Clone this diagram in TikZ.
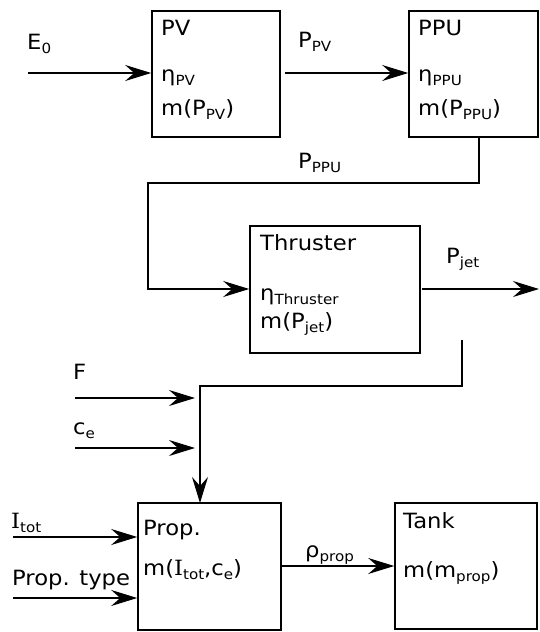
\documentclass[tikz,border=0pt]{standalone}
\usepackage{fontspec}
\setmainfont[FakeStretch=1.08]{DejaVu Sans}
\newfontfamily\serifI[FakeStretch=1.08]{DejaVu Serif}
\usetikzlibrary{arrows.meta}
\newcommand\sbs[1]{\raisebox{-4pt}{\fontsize{14}{14}\selectfont #1}}
\newcommand\Itot{{\serifI I}\sbs{tot}}
\begin{document}
\begin{tikzpicture}[x=1pt,y=-1pt,
  box/.style={draw,line width=1.6pt,inner sep=0pt},
  lbl/.style={anchor=base west,inner sep=0pt,font=\fontsize{21}{21}\selectfont},
  arr/.style={line width=1.5pt,-{Stealth[length=26pt,width=16pt,inset=9pt]}}]
\useasboundingbox (0,0) rectangle (539,632);
% boxes
\node[box,minimum width=128pt,minimum height=126pt] (pv) at (216,74) {};
\node[box,minimum width=129pt,minimum height=126pt] (ppu) at (473.5,74) {};
\node[box,minimum width=170pt,minimum height=127pt] (thr) at (335,289.5) {};
\node[box,minimum width=143pt,minimum height=127pt] (prop) at (209.5,566.5) {};
\node[box,minimum width=142pt,minimum height=126pt] (tank) at (466,566) {};
% box texts
\node[lbl] (pvt) at (161,35) {PV};
\node[lbl] (pve) at (161,81) {η\sbs{PV}};
\node[lbl] (pvm) at (161,115) {m(P\sbs{PV})};
\node[lbl] (ppt) at (418,35) {PPU};
\node[lbl] (ppe) at (418,81) {η\sbs{PPU}};
\node[lbl] (ppm) at (418,115) {m(P\sbs{PPU})};
\node[lbl] (tht) at (260,250) {Thruster};
\node[lbl] (the) at (260,300) {η\sbs{Thruster}};
\node[lbl] (thm) at (260,328) {m(P\sbs{jet})};
\node[lbl] (prt) at (143,535) {Prop.};
\node[lbl] (prm) at (143,575) {m(\Itot,c\sbs{e})};
\node[lbl] (tkt) at (403,528) {Tank};
\node[lbl] (tkm) at (403,577) {m(m\sbs{prop})};
% labels
\node[lbl] (le0) at (27,49) {E\sbs{0}};
\node[lbl] (lppv) at (298,47) {P\sbs{PV}};
\node[lbl] (lpppu) at (298,168) {P\sbs{PPU}};
\node[lbl] (lpjet) at (446,263) {P\sbs{jet}};
\node[lbl] (lf) at (73,379) {F};
\node[lbl] (lce) at (73,434) {c\sbs{e}};
\node[lbl] (litot) at (11,528) {\Itot};
\node[lbl] (lptype) at (12,585) {Prop. type};
\node[lbl] (lrho) at (305,557) {ρ\sbs{prop}};
% coordinates
\coordinate (e0) at (28,73);
\coordinate (a1) at (285,73);
\coordinate (c1) at (479,137);
\coordinate (c2) at (479,183);
\coordinate (c3) at (148,183);
\coordinate (c4) at (148,289);
\coordinate (j1) at (422,289);
\coordinate (j2) at (539,289);
\coordinate (d1) at (462,340);
\coordinate (d2) at (462,386);
\coordinate (d3) at (200,386);
\coordinate (d4) at (200,503);
\coordinate (f1) at (75,398);
\coordinate (f2) at (195,398);
\coordinate (g1) at (75,448);
\coordinate (g2) at (195,448);
\coordinate (i1) at (13,537);
\coordinate (t1) at (13,598);
\coordinate (p1) at (281,566);
% connectors
\draw[arr] (e0) -- (e0 -| pv.west);
\draw[arr] (a1) -- (a1 -| ppu.west);
\draw[arr] (c1) -- (c2) -- (c3) -- (c4) -- (c4 -| thr.west);
\draw[arr] (j1) -- (j2);
\draw[arr] (d1) -- (d2) -- (d3) -- (d4);
\draw[arr] (f1) -- (f2);
\draw[arr] (g1) -- (g2);
\draw[arr] (i1) -- (i1 -| prop.west);
\draw[arr] (t1) -- (t1 -| prop.west);
\draw[arr] (p1) -- (p1 -| tank.west);
\end{tikzpicture}
\end{document}
